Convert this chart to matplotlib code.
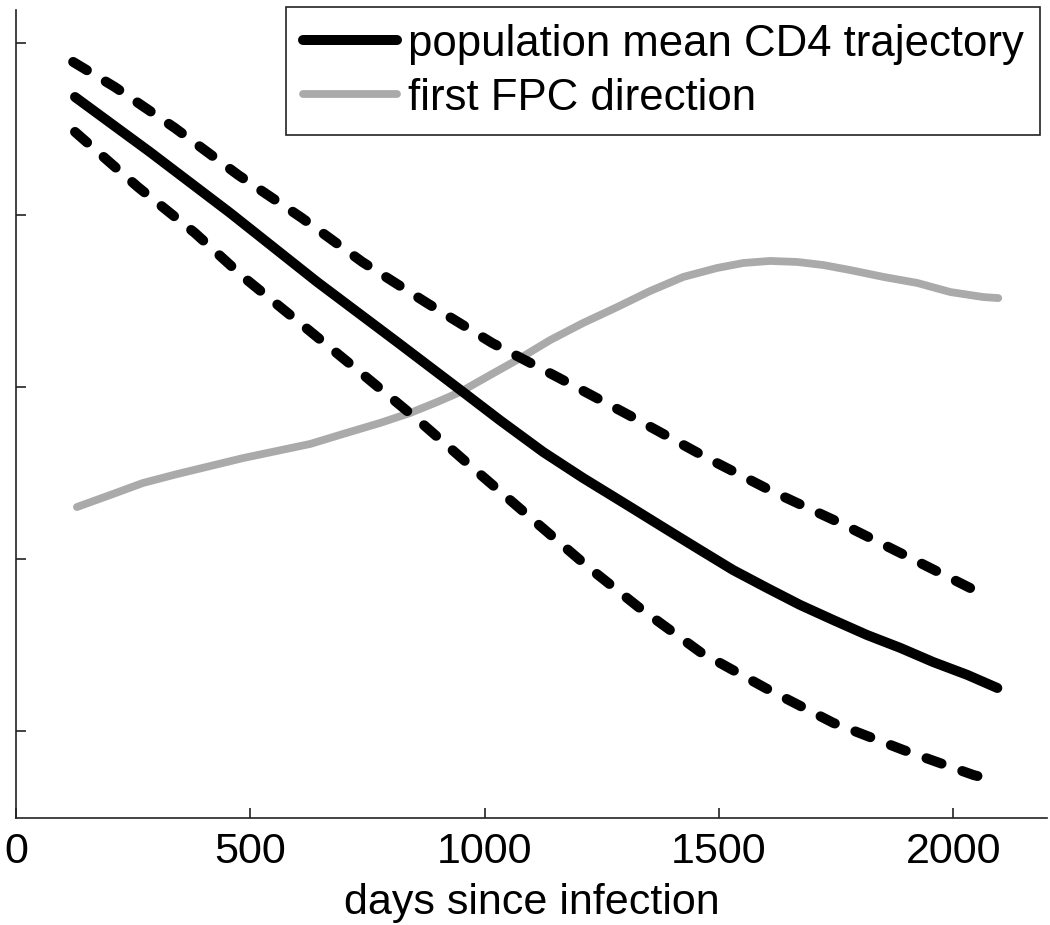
import matplotlib
matplotlib.use("Agg")
import matplotlib.pyplot as plt

plt.rcParams['font.family'] = ['Liberation Sans', 'DejaVu Sans']

# ---- data ----
mean_x = [126, 286, 457, 642, 813, 948, 1033, 1125, 1210, 1304, 1390, 1460, 1530,
          1603, 1673, 1744, 1816, 1887, 1957, 2030, 2094]
mean_y = [4.686, 4.366, 4.012, 3.612, 3.262, 2.983, 2.806, 2.622, 2.471, 2.314, 2.169,
          2.052, 1.936, 1.831, 1.733, 1.645, 1.558, 1.483, 1.401, 1.326, 1.250]

upper_x = [122, 211, 339, 474, 610, 739, 877, 1016, 1155, 1315, 1475, 1616, 1759,
           1904, 2053, 2075]
upper_y = [4.890, 4.744, 4.506, 4.233, 3.983, 3.727, 3.488, 3.256, 3.058, 2.826,
           2.587, 2.390, 2.209, 2.012, 1.808, 1.785]

lower_x = [126, 260, 382, 485, 606, 734, 858, 980, 1101, 1221, 1328, 1460, 1599,
           1744, 1893, 2043, 2068]
lower_y = [4.483, 4.163, 3.895, 3.640, 3.372, 3.087, 2.808, 2.517, 2.233, 1.953,
           1.721, 1.459, 1.250, 1.047, 0.890, 0.744, 0.727]

fpc_x = [130, 201, 271, 344, 485, 628, 698, 777, 841, 899, 948, 1012, 1069, 1140,
         1210, 1283, 1353, 1424, 1496, 1552, 1609, 1667, 1723, 1780, 1851, 1923,
         1994, 2064, 2096]
fpc_y = [2.302, 2.372, 2.442, 2.494, 2.587, 2.669, 2.727, 2.791, 2.849, 2.913, 2.971,
         3.070, 3.157, 3.273, 3.372, 3.465, 3.558, 3.640, 3.692, 3.721, 3.733, 3.727,
         3.709, 3.680, 3.640, 3.605, 3.552, 3.523, 3.517]

xticks = [0, 500, 1000, 1500, 2000]
yticks = [1, 2, 3, 4, 5]
xlabel = "days since infection"
labels = ["population mean CD4 trajectory", "first FPC direction"]

fig = plt.figure(figsize=(10.5, 9.25), dpi=100)
ax = fig.add_axes([16/1050, 1-818/925, 1031/1050, 808/925])

lw_main = 7.2
dash_pat = (1.6, 2.2)
l1, = ax.plot(mean_x, mean_y, color='black', lw=lw_main, solid_capstyle='round',
              solid_joinstyle='round', label=labels[0], zorder=3)
ax.plot(upper_x, upper_y, color='black', lw=lw_main, dashes=dash_pat,
        dash_capstyle='round', dash_joinstyle='round', zorder=3)
ax.plot(lower_x, lower_y, color='black', lw=lw_main, dashes=dash_pat,
        dash_capstyle='round', dash_joinstyle='round', zorder=3)
l2, = ax.plot(fpc_x, fpc_y, color='#aaaaaa', lw=5.6, solid_capstyle='round',
              solid_joinstyle='round', label=labels[1], zorder=2)

ax.set_xlim(0, 2200)
ax.set_ylim(0.494, 5.192)
ax.set_xticks(xticks)
ax.set_xticklabels([str(t) for t in xticks])
ax.set_yticks(yticks)
ax.set_yticklabels([])
for s in ['top', 'right']:
    ax.spines[s].set_visible(False)
for s in ['left', 'bottom']:
    ax.spines[s].set_linewidth(1.2)
    ax.spines[s].set_color('#222222')
ax.tick_params(direction='in', length=7.5, width=1.2, color='#222222',
               labelsize=31, pad=10)
ax.set_xlabel(xlabel, fontsize=31, labelpad=8)

leg = ax.legend(handles=[l1, l2], loc='upper right',
                bbox_to_anchor=((1040-16)/1031, (818-7)/808),
                borderaxespad=0, fontsize=31.5, handlelength=2.15,
                handletextpad=0.25, borderpad=0.38, labelspacing=0.3,
                fancybox=False, framealpha=1)
leg.get_frame().set_edgecolor('#222222')
leg.get_frame().set_linewidth(1.2)

fig.savefig("out.png", dpi=100)
